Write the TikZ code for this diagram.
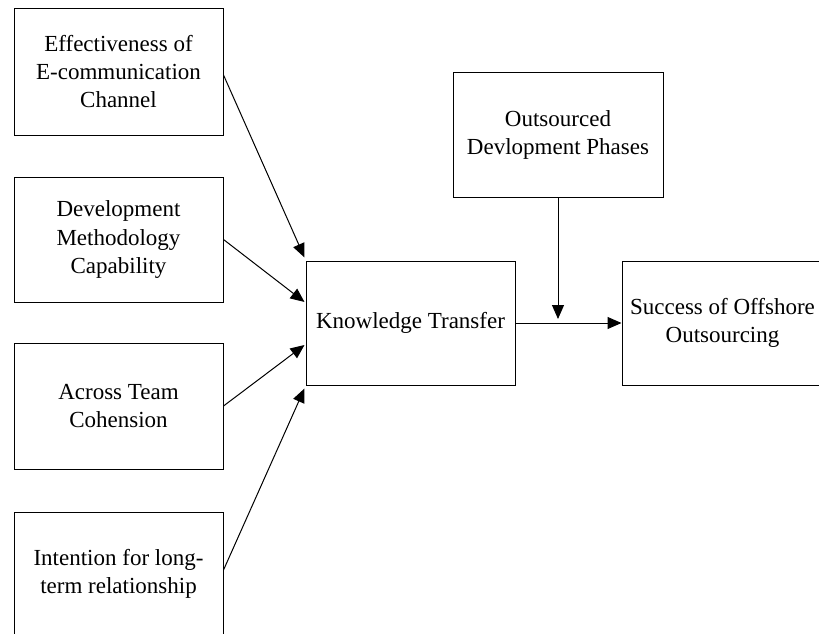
\documentclass[tikz,border=0pt]{standalone}
\usepackage{fontspec}
\IfFontExistsTF{LiberationSerif-Regular.ttf}
  {\setmainfont{LiberationSerif-Regular.ttf}}
  {\setmainfont{Liberation Serif}}
\usetikzlibrary{arrows.meta,calc}
\begin{document}
\begin{tikzpicture}[x=1pt,y=-1pt,
  box/.style={draw,line width=1pt,inner sep=0pt,align=center,
    font=\fontsize{23}{28}\selectfont},
  link/.style={line width=1pt,-{Triangle[length=14pt,width=12pt]}}]
\useasboundingbox (0,0) rectangle (819,634);
\clip (0,0) rectangle (819,634);
\fill[white] (0,0) rectangle (819,634);
\node[box,minimum width=209pt,minimum height=126pt] (b1) at (118.5,72) {Effectiveness of\\E-communication\\Channel};
\node[box,minimum width=209pt,minimum height=125pt] (b2) at (118.5,239.5) {Development\\Methodology\\Capability};
\node[box,minimum width=209pt,minimum height=126pt] (b3) at (118.5,406) {Across Team\\Cohension};
\node[box,minimum width=209pt,minimum height=124pt] (b4) at (118.5,574) {Intention for long-\\term relationship};
\node[box,minimum width=209pt,minimum height=124pt] (kt) at (410.5,323) {Knowledge Transfer};
\node[box,minimum width=210pt,minimum height=124pt] (op) at (558,135) {Outsourced\\Devlopment Phases};
\node[box,minimum width=201pt,minimum height=124pt] (su) at (722.5,323) {Success of Offshore\\Outsourcing};
\coordinate (j) at (op.south |- kt.east);
\draw[link] ([yshift=-3pt]b1.east) -- ([xshift=-1pt,yshift=3pt]kt.north west);
\draw[link] (b2.east) -- ([xshift=-1pt,yshift=21pt]kt.west);
\draw[link] (b3.east) -- ([xshift=-1pt,yshift=-22pt]kt.west);
\draw[link] ([yshift=4pt]b4.east) -- ([xshift=-1pt,yshift=-3pt]kt.south west);
\draw[link] (op.south) -- ([yshift=4pt]j);
\draw[link] (kt.east) -- (su.west);
\end{tikzpicture}
\end{document}
